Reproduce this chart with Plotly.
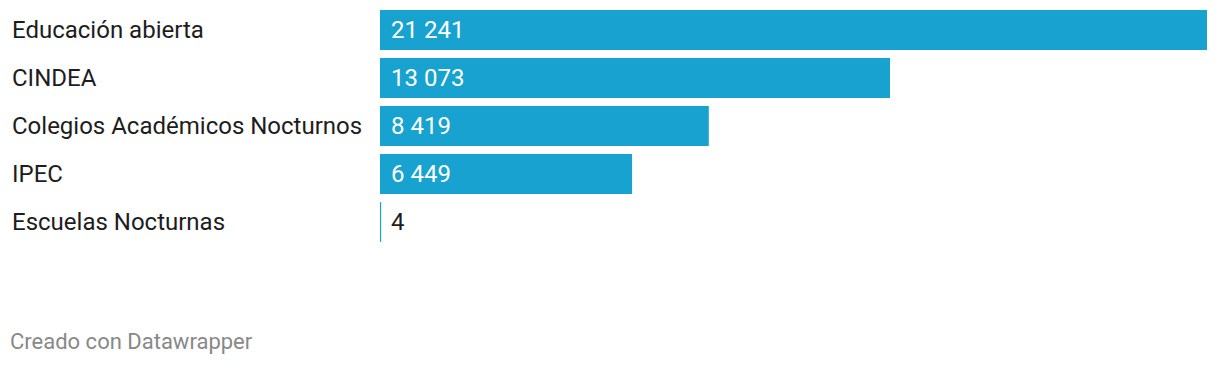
import plotly.graph_objects as go

categories = ["Educación abierta", "CINDEA", "Colegios Académicos Nocturnos", "IPEC", "Escuelas Nocturnas"]
values = [21241, 13073, 8419, 6449, 4]
value_labels = ["21 241", "13 073", "8 419", "6 449", "4"]

BAR_COLOR = "#18a2cf"
W, H = 1220, 366
ML, MR, MT, MB = 380, 13, 6, 120

fig = go.Figure(go.Bar(
    x=values, y=categories, orientation="h",
    marker=dict(color=BAR_COLOR, line=dict(color=BAR_COLOR, width=2)),
    hoverinfo="skip",
))

plot_w = W - ML - MR
annotations = []
for cat, v, lab in zip(categories, values, value_labels):
    annotations.append(dict(
        x=(10 - ML) / plot_w, xref="paper", y=cat, yref="y",
        text=cat, showarrow=False, xanchor="left", yanchor="middle",
        font=dict(family="Roboto", size=24, color="#1d1d1d"),
    ))
    inside = v / max(values) > 0.1
    annotations.append(dict(
        x=0, xref="x", y=cat, yref="y", text=lab, showarrow=False,
        xanchor="left", yanchor="middle", xshift=9,
        font=dict(family="Roboto", size=24, color="#ffffff" if inside else "#1d1d1d"),
    ))
annotations.append(dict(
    x=(8 - ML) / plot_w, xref="paper", y=(H - MB - 341) / (H - MT - MB), yref="paper",
    text="Creado con Datawrapper", showarrow=False, xanchor="left", yanchor="middle",
    font=dict(family="Roboto", size=22, color="#888888"),
))

fig.update_layout(
    width=W, height=H, margin=dict(l=ML, r=MR, t=MT, b=MB),
    paper_bgcolor="white", plot_bgcolor="white",
    bargap=10 / 48, showlegend=False,
    xaxis=dict(range=[0, max(values)], visible=False, fixedrange=True),
    yaxis=dict(autorange="reversed", visible=False, fixedrange=True),
    annotations=annotations,
)
fig.write_html("out.html", config={"displayModeBar": False})

with open("out.html", encoding="utf-8") as f:
    html = f.read()
html = html.replace("<body>", '<body style="margin:0;padding:0;">', 1)
with open("out.html", "w", encoding="utf-8") as f:
    f.write(html)
